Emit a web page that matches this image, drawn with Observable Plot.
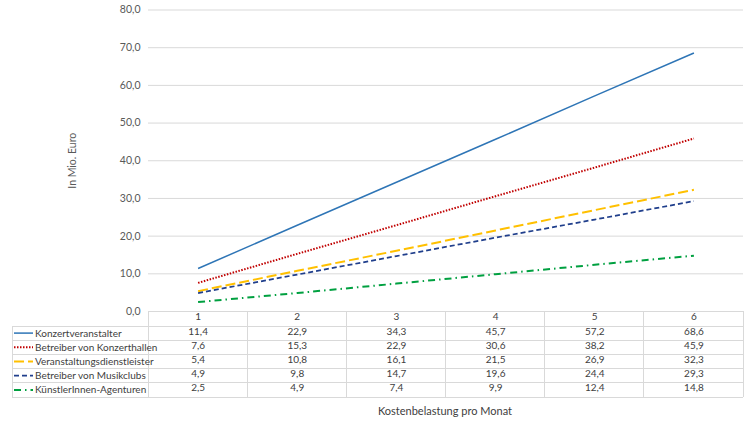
<!DOCTYPE html>
<html>
<head>
<meta charset="utf-8">
<script src="https://cdn.jsdelivr.net/npm/d3@7"></script>
<script src="https://cdn.jsdelivr.net/npm/@observablehq/plot@0.6"></script>
<style>
  html, body { margin: 0; padding: 0; background: #fff; }
  #chart { width: 750px; height: 421px; }
</style>
</head>
<body>
<div id="chart"></div>
<script>
const categories = [1, 2, 3, 4, 5, 6];
const seriesNames = [
  "Konzertveranstalter",
  "Betreiber von Konzerthallen",
  "Veranstaltungsdienstleister",
  "Betreiber von Musikclubs",
  "KünstlerInnen-Agenturen"
];
const konzertveranstalter = [11.4, 22.9, 34.3, 45.7, 57.2, 68.6];
const konzerthallen = [7.6, 15.3, 22.9, 30.6, 38.2, 45.9];
const dienstleister = [5.4, 10.8, 16.1, 21.5, 26.9, 32.3];
const musikclubs = [4.9, 9.8, 14.7, 19.6, 24.4, 29.3];
const agenturen = [2.5, 4.9, 7.4, 9.9, 12.4, 14.8];
const yTicks = [0, 10, 20, 30, 40, 50, 60, 70, 80];

const seriesValues = [konzertveranstalter, konzerthallen, dienstleister, musikclubs, agenturen];
const styles = [
  {stroke: "#2E75B6", width: 1.5, dash: null},
  {stroke: "#C00000", width: 2, dash: "1.5 1.5"},
  {stroke: "#FFC000", width: 2, dash: "10 4"},
  {stroke: "#203F8C", width: 1.75, dash: "5 3"},
  {stroke: "#00A040", width: 2, dash: "7 4 1.5 4"}
];

const data = [];
seriesNames.forEach((s, i) => categories.forEach((c, j) => data.push({series: s, idx: i, cat: c, value: seriesValues[i][j]})));

const fmt = v => v.toFixed(1).replace(".", ",");
const W = 750, H = 421, mL = 148, mR = 7, mT = 9.5, mB = 110;
const rowH = 14.2;
const headerH = 15;
const font = "Lato, 'Open Sans', sans-serif";

const marks = [
  Plot.gridY(yTicks, {stroke: "#d9d9d9", strokeOpacity: 1, strokeWidth: 1}),
  Plot.axisY(yTicks, {
    tickSize: 0, tickPadding: 8, tickFormat: fmt, fontSize: 10.5, fill: "#595959",
    label: "In Mio. Euro", labelAnchor: "center", labelArrow: "none", labelOffset: 80
  })
];
seriesNames.forEach((s, i) => {
  const st = styles[i];
  marks.push(Plot.line(data.filter(d => d.idx === i), {
    x: "cat", y: "value", stroke: st.stroke, strokeWidth: st.width,
    strokeDasharray: st.dash, strokeLinecap: "butt"
  }));
});
// header row (categories)
marks.push(Plot.text(categories, {x: d => d, frameAnchor: "bottom", dy: headerH / 2 + 1, fontSize: 10, fill: "#404040"}));
// table values
seriesNames.forEach((s, i) => {
  marks.push(Plot.text(data.filter(d => d.idx === i), {
    x: "cat", text: d => fmt(d.value), frameAnchor: "bottom",
    dy: headerH + rowH * i + rowH / 2 + 1, fontSize: 10, fill: "#404040"
  }));
});

const plot = Plot.plot({
  width: W, height: H,
  marginLeft: mL, marginRight: mR, marginTop: mT, marginBottom: mB,
  style: {fontFamily: font, color: "#595959", background: "#fff", overflow: "visible"},
  x: {type: "linear", domain: [0.5, 6.5], axis: null},
  y: {domain: [0, 80], axis: null},
  marks
});
document.getElementById("chart").appendChild(plot);

// table borders, legend samples, labels
const svg = d3.select(plot);
const xs = plot.scale("x");
const y0 = H - mB;
const tableBottom = y0 + headerH + rowH * seriesNames.length;
const leftX = 12;
const g = svg.append("g").attr("stroke", "#d9d9d9").attr("stroke-width", 1).attr("shape-rendering", "crispEdges");
const bounds = d3.range(0.5, 7, 1);
bounds.forEach(b => {
  const x = xs.apply(b);
  g.append("line").attr("x1", x).attr("x2", x).attr("y1", y0).attr("y2", tableBottom);
});
g.append("line").attr("x1", leftX).attr("x2", leftX).attr("y1", y0 + headerH).attr("y2", tableBottom);
for (let i = 0; i <= seriesNames.length; i++) {
  const y = y0 + headerH + rowH * i;
  g.append("line").attr("x1", leftX).attr("x2", W - mR).attr("y1", y).attr("y2", y);
}
const lg = svg.append("g").attr("font-family", font).attr("font-size", 10).attr("fill", "#404040")
  .attr("text-anchor", "start");
seriesNames.forEach((s, i) => {
  const st = styles[i];
  const cy = y0 + headerH + rowH * i + rowH / 2;
  lg.append("line").attr("x1", 14).attr("x2", 33).attr("y1", cy).attr("y2", cy)
    .attr("stroke", st.stroke).attr("stroke-width", st.width)
    .attr("stroke-dasharray", st.dash);
  lg.append("text").attr("x", 35).attr("y", cy).attr("dy", "0.35em")
    .attr("text-anchor", "start").text(s);
});
svg.append("text").attr("x", 445).attr("y", 411).attr("dy", "0.35em")
  .attr("text-anchor", "middle").attr("font-family", font).attr("font-size", 11)
  .attr("fill", "#404040").text("Kostenbelastung pro Monat");
</script>
</body>
</html>
